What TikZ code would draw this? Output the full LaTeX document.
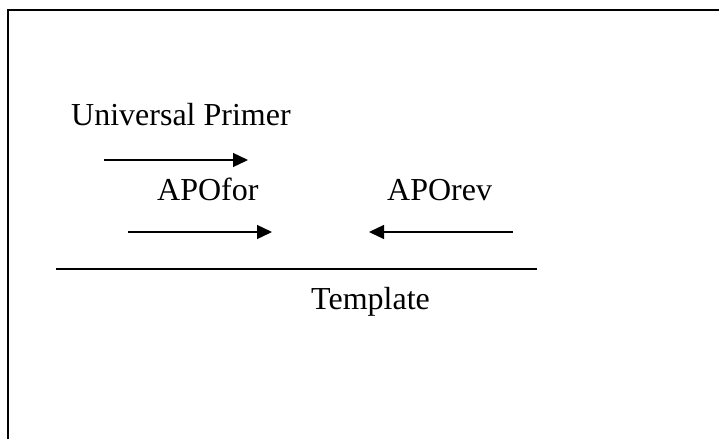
\documentclass[tikz,border=0pt]{standalone}
\usepackage{fontspec}
\setmainfont{Liberation Serif}
\usetikzlibrary{
  arrows.meta
}
\tikzset{
  primer name/.style={
    anchor=base west, inner sep=0pt,
    font=\fontsize{32}{38}\selectfont
  },
  primer/.style={
    line width=1.3pt,
    -{Triangle[length=15pt,width=14pt]}
  },
  strand/.style={
    line width=2pt
  }
}

\begin{document}
\begin{tikzpicture}[x=1pt,y=-1pt]
\useasboundingbox (0,0) rectangle (719,439);
\draw[line width=1.8pt] (8,439) |- (719,10);
% labels
\node[primer name] (uni) at (71,125) {Universal Primer};
\node[primer name] (for) at (157,200) {APOfor};
\node[primer name] (rev) at (387,200) {APOrev};
\node[primer name] (tpl) at (311,309) {Template};
% primers
\coordinate (unistart) at (104,160);
\coordinate (uniend) at (248,160);
\coordinate (forstart) at (128,232);
\coordinate (forend) at (272,232);
\coordinate (revstart) at (513,232);
\coordinate (revend) at (369,232);
\draw[primer] (unistart) -- (uniend);
\draw[primer] (forstart) -- (forend);
\draw[primer] (revstart) -- (revend);
% template strand
\coordinate (tplleft) at (56,269);
\coordinate (tplright) at (537,269);
\draw[strand] (tplleft) -- (tplright);
\end{tikzpicture}
\end{document}
